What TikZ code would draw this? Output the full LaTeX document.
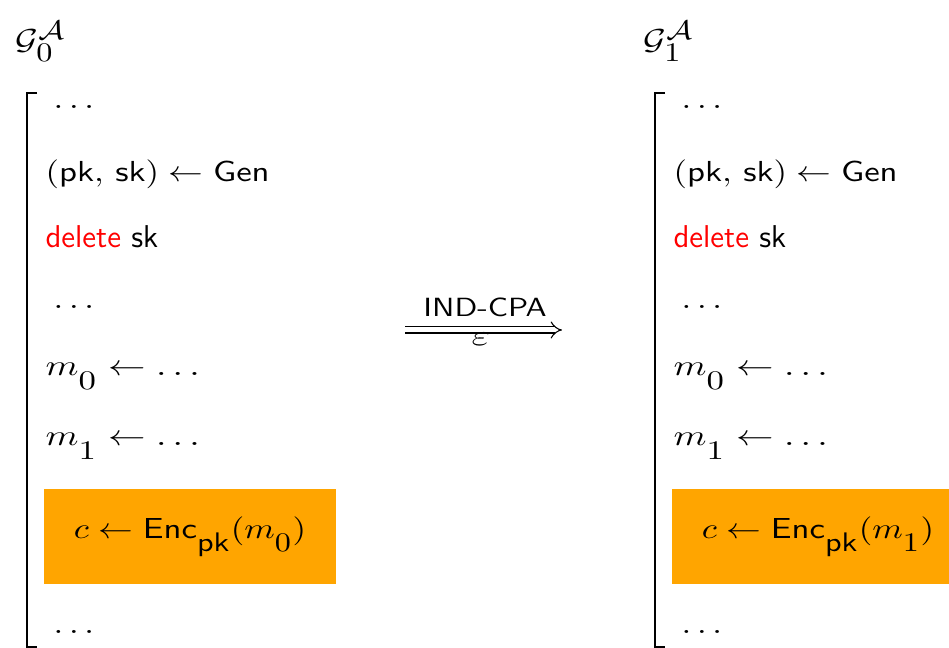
\RequirePackage{fix-cm}
\documentclass[tikz,border=0pt]{standalone}
\usepackage{amsfonts}
\usepackage{amsmath}
\usetikzlibrary{arrows.meta}

\DeclareMathSizes{10}{10}{8}{6}
\DeclareMathSizes{11}{11}{10.2}{8}
\DeclareMathSizes{12}{12}{10.5}{8}

\definecolor{challenge}{HTML}{FFA500}
\newcommand{\pk}{\mathsf{pk}}
\newcommand{\sk}{\mathsf{sk}}
\newcommand{\Gen}{\mathsf{Gen}}
\newcommand{\Enc}{\mathsf{Enc}}
\newcommand{\subdrop}{\rule{0pt}{8.8pt}}

\begin{document}
\begin{tikzpicture}[x=0.38pt, y=-0.38pt, font=\fontsize{11}{13}\selectfont]
	\tikzstyle{line}=[anchor=base west, inner sep=0pt, xscale=1.2]
	\tikzstyle{word}=[anchor=base west, inner sep=0pt, font=\fontsize{12}{14}\selectfont]
	\tikzstyle{encbox}=[fill=challenge, inner sep=0pt, xscale=1.2, minimum width=92.47pt, minimum height=36.1pt]
	\tikzstyle{game}=[line width=0.76pt]
	
	\useasboundingbox (0,0) rectangle (949,648);
	
	% left game
	\node[line](g0) at (15,50){$\mathcal{G}_0^{\mathcal{A}}$};
	\draw[game] (37,93) -- (27,93) -- (27,647) -- (37,647);
	\node[line](a0) at (53,109){$\ldots$};
	\node[line](b0) at (45,182){$(\pk,\,\sk) \leftarrow \Gen$};
	\node[word](c0) at (45,248){\textsf{\color{red}delete} $\sk$};
	\node[line](d0) at (53,309){$\ldots$};
	\node[line, xscale=1.08](e0) at (45,376){$m_{\subdrop0} \leftarrow \ldots$};
	\node[line, xscale=1.08](f0) at (45,446){$m_{\subdrop1} \leftarrow \ldots$};
	\node[encbox](h0) at (190,536.5){$c \leftarrow \Enc_{\subdrop\pk}(m_{\subdrop0})$};
	\node[line](i0) at (53,634){$\ldots$};
	
	% reduction arrow
	\coordinate (from) at (405,330);
	\coordinate (to) at (562,330);
	\draw[double, double distance=1.9pt, line width=0.4pt, -{Implies}] (from) -- (to);
	\node[anchor=base, xscale=1.2, font=\fontsize{10}{12}\selectfont](ind) at (485,317){\textsf{IND-CPA}};
	\node[xscale=1.4, inner sep=0pt, font=\fontsize{11}{13}\selectfont](eps) at (481,339){$\varepsilon$};
	
	% right game
	\node[line](g1) at (643,50){$\mathcal{G}_1^{\mathcal{A}}$};
	\draw[game] (665,93) -- (655,93) -- (655,647) -- (665,647);
	\node[line](a1) at (681,109){$\ldots$};
	\node[line](b1) at (673,182){$(\pk,\,\sk) \leftarrow \Gen$};
	\node[word](c1) at (673,248){\textsf{\color{red}delete} $\sk$};
	\node[line](d1) at (681,309){$\ldots$};
	\node[line, xscale=1.08](e1) at (673,376){$m_{\subdrop0} \leftarrow \ldots$};
	\node[line, xscale=1.08](f1) at (673,446){$m_{\subdrop1} \leftarrow \ldots$};
	\node[encbox](h1) at (818,536.5){$c \leftarrow \Enc_{\subdrop\pk}(m_{\subdrop1})$};
	\node[line](i1) at (681,634){$\ldots$};
	
\end{tikzpicture}
\end{document}
